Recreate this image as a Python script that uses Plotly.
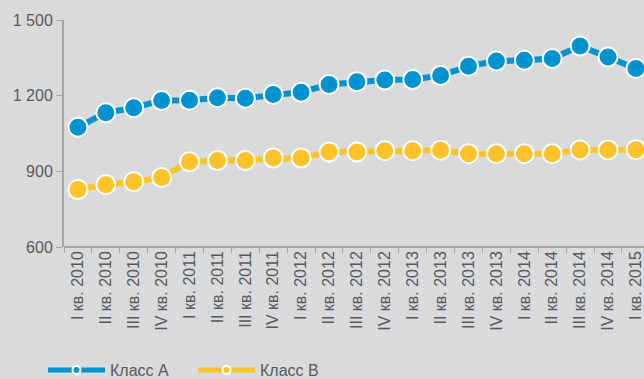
import plotly.graph_objects as go

categories = ["I кв. 2010", "II кв. 2010", "III кв. 2010", "IV кв. 2010",
              "I кв. 2011", "II кв. 2011", "III кв. 2011", "IV кв. 2011",
              "I кв. 2012", "II кв. 2012", "III кв. 2012", "IV кв. 2012",
              "I кв. 2013", "II кв. 2013", "III кв. 2013", "IV кв. 2013",
              "I кв. 2014", "II кв. 2014", "III кв. 2014", "IV кв. 2014",
              "I кв. 2015"]
class_a = [1075, 1132, 1152, 1181, 1182, 1192, 1190, 1205, 1214, 1244, 1255,
           1262, 1264, 1280, 1317, 1337, 1340, 1347, 1397, 1353, 1308]
class_b = [828, 847, 859, 876, 938, 943, 943, 953, 953, 977, 977,
           982, 982, 984, 970, 970, 970, 970, 985, 985, 986]
series_names = ["Класс А", "Класс B"]
colors = ["#0093d0", "#fec22b"]
bg = "#d9dadc"

fig = go.Figure()
for name, vals, col in zip(series_names, [class_a, class_b], colors):
    fig.add_trace(go.Scatter(
        x=categories, y=vals, mode="lines+markers", name=name, showlegend=False,
        line=dict(color=col, width=6),
        marker=dict(size=19, color=col, line=dict(color="white", width=2)),
    ))
    fig.add_trace(go.Scatter(
        x=[None], y=[None], mode="lines+markers", name=name, showlegend=True,
        line=dict(color=col, width=5),
        marker=dict(size=8, color=col, line=dict(color="white", width=2)),
    ))

fig.update_layout(
    width=644, height=379,
    margin=dict(l=64, r=0, t=20, b=132),
    paper_bgcolor=bg, plot_bgcolor=bg,
    separators=", ",
    font=dict(family="Liberation Sans, Arial, sans-serif", size=16, color="#595959"),
    showlegend=True,
    legend=dict(orientation="h", xref="container", yref="container",
                x=43 / 644, xanchor="left", y=(379 - 370) / 379, yanchor="middle",
                itemwidth=57, entrywidth=78, entrywidthmode="pixels",
                font=dict(size=16, color="#595959"),
                bgcolor="rgba(0,0,0,0)", tracegroupgap=0),
)
fig.update_xaxes(
    type="category", range=[-0.5, 20.29], tickangle=-90,
    showgrid=False, zeroline=False, showline=False,
    ticks="outside", ticklen=5, tickcolor="#a6a6a6", tickson="boundaries",
    tickfont=dict(size=16, color="#595959"),
)
fig.update_yaxes(
    range=[600, 1500], tickvals=[600, 900, 1200, 1500],
    tickformat=",d",
    showgrid=False, zeroline=False, showline=True, linecolor="#a6a6a6", linewidth=2,
    ticks="outside", ticklen=6, tickcolor="#a6a6a6",
    tickfont=dict(size=16, color="#595959"),
)
fig.add_shape(type="line", xref="paper", yref="paper", x0=0, x1=1, y0=0, y1=0,
              line=dict(color="#a6a6a6", width=2))

fig.write_html("out.html")
